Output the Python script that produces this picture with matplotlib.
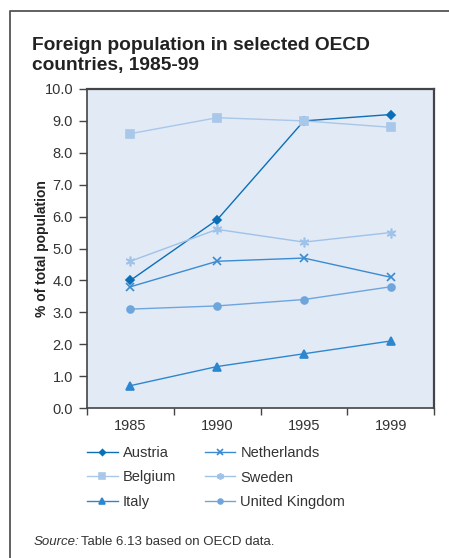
import matplotlib
matplotlib.use("Agg")
import matplotlib.pyplot as plt
from matplotlib.lines import Line2D

plt.rcParams['font.family'] = ['Liberation Sans', 'DejaVu Sans']

years = ["1985", "1990", "1995", "1999"]
austria = [4.0, 5.9, 9.0, 9.2]
belgium = [8.6, 9.1, 9.0, 8.8]
italy = [0.7, 1.3, 1.7, 2.1]
netherlands = [3.8, 4.6, 4.7, 4.1]
sweden = [4.6, 5.6, 5.2, 5.5]
united_kingdom = [3.1, 3.2, 3.4, 3.8]

series = [
    ("Austria", austria, "#0b6fb8", "D", 4.2),
    ("Belgium", belgium, "#a9c7e8", "s", 5.5),
    ("Italy", italy, "#2d87cf", "^", 5.5),
    ("Netherlands", netherlands, "#3b8bd1", "x", 6),
    ("Sweden", sweden, "#9fc2e8", (6, 2, 0), 7),
    ("United Kingdom", united_kingdom, "#6ea5dd", "o", 5),
]

fig = plt.figure(figsize=(4.49, 5.58), dpi=100)
W, H = 449, 558

# outer frame: top and left rules only
fig.add_artist(Line2D([1.0, 10 / W, 10 / W], [1 - 11 / H, 1 - 11 / H, 0],
                      color="#555555", lw=1.3, transform=fig.transFigure))

fig.text(32 / W, 1 - 50 / H, "Foreign population in selected OECD", fontsize=13.8,
         fontweight="bold", color="#222222", va="baseline")
fig.text(32 / W, 1 - 70 / H, "countries, 1985-99", fontsize=13.8,
         fontweight="bold", color="#222222", va="baseline")

ax = fig.add_axes([87 / W, 1 - 408 / H, 347 / W, 319 / H])
ax.set_facecolor("#e2eaf6")

x = list(range(len(years)))
for name, vals, col, mk, ms in series:
    ax.plot(x, vals, color=col, marker=mk, markersize=ms, lw=1.0, label=name,
            markeredgecolor=col, markerfacecolor=col, markeredgewidth=1.2)

ax.set_xlim(-0.5, len(years) - 0.5)
ax.set_ylim(0, 10)
ax.set_yticks([i for i in range(11)])
ax.set_yticklabels([f"{i:.1f}" for i in range(11)], fontsize=10.5, color="#333333")
ax.set_xticks(x)
ax.set_xticklabels(years, fontsize=10.5, color="#333333")
ax.tick_params(axis="x", which="major", length=0, pad=8)
ax.set_xticks([i - 0.5 for i in range(len(years) + 1)], minor=True)
ax.tick_params(axis="x", which="minor", length=5, width=1, color="#444444")
ax.tick_params(axis="y", length=6, width=1, color="#444444", pad=4)

for side in ["left", "bottom"]:
    ax.spines[side].set_color("#444444")
    ax.spines[side].set_linewidth(1.2)
for side in ["top", "right"]:
    ax.spines[side].set_color("#444444")
    ax.spines[side].set_linewidth(1.6)

ax.set_ylabel("% of total population", fontsize=10, fontweight="bold", color="#222222")
ax.yaxis.set_label_coords(-38 / 347, 0.5)

handles, labels = ax.get_legend_handles_labels()
fig.legend(handles, labels, ncol=2, loc="upper left", bbox_to_anchor=(87 / W, 1 - 446 / H),
           frameon=False, fontsize=10.5, handlelength=2.1, columnspacing=1.95,
           labelspacing=0.72, handletextpad=0.35, borderpad=0, borderaxespad=0,
           markerscale=0.7, labelcolor="#333333")

fig.text(34 / W, 1 - 545 / H, "Source:", fontsize=9.5, style="italic", color="#333333")
fig.text(81 / W, 1 - 545 / H, "Table 6.13 based on OECD data.", fontsize=9.5, color="#333333")

fig.savefig("out.png", dpi=100)
